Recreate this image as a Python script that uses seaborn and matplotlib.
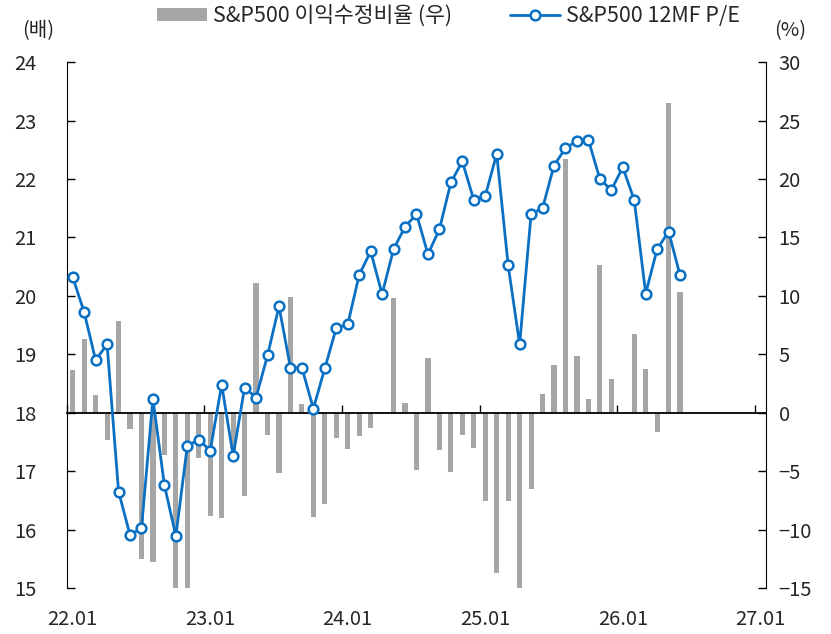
import numpy as np
import pandas as pd
import matplotlib
matplotlib.use("Agg")
import matplotlib.pyplot as plt
import seaborn as sns
from matplotlib.patches import Patch
from matplotlib.ticker import FixedLocator, FixedFormatter, NullFormatter

# 데이터 (22.01 ~ 26.06, 월별)
pe_ratio = [20.32, 19.72, 18.90, 19.17, 16.65, 15.91, 16.02, 18.24, 16.76, 15.89,
            17.43, 17.54, 17.35, 18.48, 17.26, 18.43, 18.26, 18.98, 19.82, 18.77,
            18.77, 18.07, 18.76, 19.45, 19.51, 20.36, 20.76, 20.03, 20.80, 21.18,
            21.40, 20.71, 21.14, 21.94, 22.30, 21.64, 21.71, 22.43, 20.52, 19.17,
            21.40, 21.50, 22.23, 22.53, 22.65, 22.67, 22.00, 21.81, 22.20, 21.64,
            20.04, 20.80, 21.10, 20.35]
revision = [3.67, 6.27, 1.50, -2.30, 7.87, -1.41, -12.55, -12.79, -3.61, -15.2,
            -15.2, -3.89, -8.88, -9.03, -4.0, -7.16, 11.08, -1.93, -5.20, 9.92,
            0.77, -8.94, -7.81, -2.14, -3.12, -2.02, -1.35, 0.09, 9.83, 0.80,
            -4.93, 4.65, -3.18, -5.08, -1.90, -3.06, -7.53, -13.71, -7.53, -15.2,
            -6.49, 1.62, 4.04, 21.70, 4.87, 1.19, 12.64, 2.85, 0.0, 6.70,
            3.70, -1.65, 26.48, 10.32]
year_labels = ["22.01", "23.01", "24.01", "25.01", "26.01", "27.01"]
n_months = 61  # 22.01 ~ 27.01 카테고리

df = pd.DataFrame({"idx": np.arange(len(pe_ratio)), "pe": pe_ratio, "rev": revision})

bar_color = "#A6A6A6"
line_color = "#0A70C4"
fs = 14.5
fs_leg = 15.5

sns.set_style("white")
plt.rcParams["font.family"] = ["Noto Sans CJK KR", "DejaVu Sans"]

fig = plt.figure(figsize=(8.31, 6.34), dpi=100)
ax = fig.add_axes([0.0806, 0.0726, 0.8412, 0.8294])  # 좌축: P/E
ax2 = ax.twinx()                                     # 우축: 이익수정비율
ax.set_zorder(ax2.get_zorder() + 1)
ax.patch.set_visible(False)

# 막대 (우축)
sns.barplot(data=df, x="idx", y="rev", ax=ax2, color=bar_color, width=0.45,
            native_scale=True, saturation=1, errorbar=None, linewidth=0,
            edgecolor="none")
ax2.set_ylim(-15, 30)
ax2.set_yticks(np.arange(-15, 31, 5))
ax2.set_ylabel("")
ax2.set_xlabel("")

# 선 (좌축)
sns.lineplot(data=df, x="idx", y="pe", ax=ax, color=line_color, linewidth=2.0,
             marker="o", markersize=7, markerfacecolor="white",
             markeredgecolor=line_color, markeredgewidth=1.8, zorder=3)
ax.set_ylim(15, 24)
ax.set_yticks(np.arange(15, 25, 1))
ax.set_ylabel("")
ax.set_xlabel("")

# x축: 연도 경계에 눈금, 라벨은 1월 카테고리 중앙
ax.set_xlim(-0.5, n_months - 0.5)
ax.xaxis.set_major_locator(FixedLocator(np.arange(-0.5, n_months, 12)))
ax.xaxis.set_minor_locator(FixedLocator(np.arange(0, n_months, 12)))
ax.xaxis.set_major_formatter(NullFormatter())
ax.xaxis.set_minor_formatter(FixedFormatter(year_labels))

for s in ["top", "right"]:
    ax.spines[s].set_visible(False)
ax.spines["left"].set_color("black")
ax.spines["bottom"].set_position(("data", 18))
ax.spines["bottom"].set_color("black")
ax.spines["bottom"].set_linewidth(1.3)
ax.tick_params(axis="x", which="major", direction="in", length=6, width=1,
               color="black", bottom=True, labelbottom=False)
ax.tick_params(axis="x", which="minor", length=0, labelbottom=False)
ax.tick_params(axis="y", direction="in", length=6, width=1, color="black",
               left=True, pad=22, labelsize=fs)

ax2.xaxis.set_visible(True)
for s in ["top", "left", "bottom"]:
    ax2.spines[s].set_visible(False)
ax2.spines["right"].set_color("black")
ax2.tick_params(axis="x", which="major", length=0, labelbottom=False)
ax2.tick_params(axis="x", which="minor", length=0, labelbottom=True, pad=15,
                labelsize=fs)
ax2.tick_params(axis="y", direction="in", length=6, width=1, color="black",
                right=True, pad=9, labelsize=fs)

# 단위
fig.text(0.046, 0.952, "(배)", ha="center", va="center", fontsize=fs)
fig.text(0.951, 0.952, "(%)", ha="center", va="center", fontsize=fs)

# 범례
handles = [Patch(facecolor=bar_color, edgecolor="none"), ax.get_lines()[0]]
labels = ["S&P500 이익수정비율 (우)", "S&P500 12MF P/E"]
fig.legend(handles, labels, loc="center", bbox_to_anchor=(0.54, 0.975), ncol=2,
           frameon=False, fontsize=fs_leg, handlelength=2.3, handleheight=0.55,
           handletextpad=0.3, columnspacing=2.7)

fig.savefig("out.png", dpi=100, facecolor="white")
